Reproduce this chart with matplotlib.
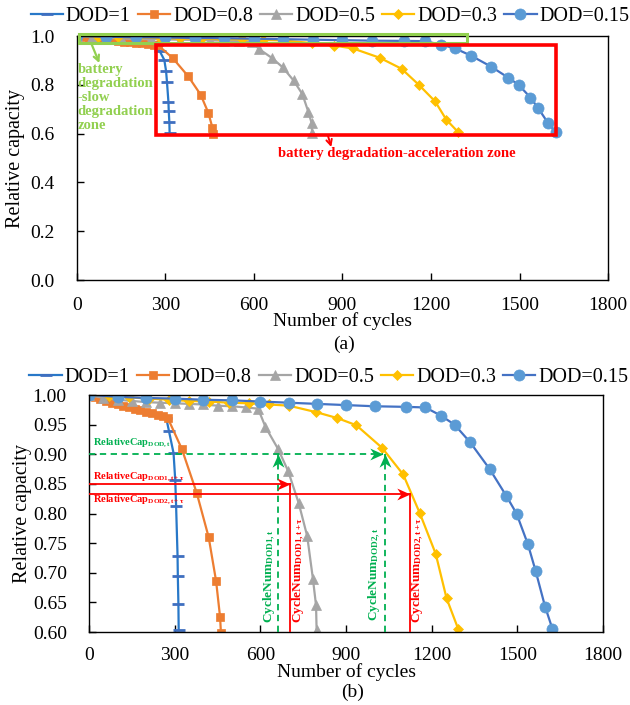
import numpy as np
import matplotlib.pyplot as plt
from matplotlib.patches import Rectangle
from matplotlib.path import Path

plt.rcParams['font.family'] = ['Liberation Serif', 'DejaVu Serif']
plt.rcParams['mathtext.fontset'] = 'custom'
plt.rcParams['mathtext.rm'] = 'Liberation Serif'
plt.rcParams['mathtext.bf'] = 'Liberation Serif:bold'
plt.rcParams['mathtext.it'] = 'Liberation Serif:italic'

# capacity fade curves for each depth of discharge
labels = ['DOD=1', 'DOD=0.8', 'DOD=0.5', 'DOD=0.3', 'DOD=0.15']

cyc_dod1 = [0, 30, 60, 90, 120, 150, 180, 210, 240, 270, 280, 296, 302, 305, 310, 311, 313, 314]
cap_dod1 = [1.000, 0.994, 0.989, 0.985, 0.981, 0.978, 0.975, 0.972, 0.968, 0.962,
            0.939, 0.902, 0.856, 0.812, 0.729, 0.694, 0.648, 0.603]

cyc_dod08 = [0, 20, 40, 60, 80, 100, 120, 140, 160, 180, 200, 220, 240, 260, 275,
             325, 377, 419, 445, 459, 462]
cap_dod08 = [1.000, 0.996, 0.993, 0.990, 0.987, 0.985, 0.982, 0.980, 0.977, 0.975,
             0.972, 0.970, 0.967, 0.965, 0.962, 0.909, 0.835, 0.760, 0.686, 0.625, 0.598]

cyc_dod05 = [0, 50, 100, 150, 200, 250, 300, 350, 400, 450, 500, 550, 592,
             618, 662, 697, 734, 764, 784, 795, 797]
cap_dod05 = [1.000, 0.995, 0.992, 0.990, 0.988, 0.987, 0.986, 0.985, 0.984, 0.982,
             0.981, 0.979, 0.977, 0.946, 0.909, 0.872, 0.818, 0.762, 0.690, 0.645, 0.603]

cyc_dod03 = [0, 70, 140, 210, 280, 350, 420, 490, 560, 632, 700, 796, 870, 936,
             1026, 1100, 1158, 1214, 1252, 1293]
cap_dod03 = [1.000, 0.998, 0.996, 0.994, 0.992, 0.990, 0.989, 0.987, 0.986, 0.984,
             0.982, 0.971, 0.961, 0.949, 0.911, 0.866, 0.801, 0.732, 0.657, 0.605]

cyc_dod015 = [0, 100, 200, 300, 400, 500, 600, 700, 800, 900, 1000, 1110, 1178,
              1233, 1280, 1335, 1403, 1461, 1497, 1537, 1564, 1597, 1623]
cap_dod015 = [1.000, 0.997, 0.995, 0.994, 0.992, 0.991, 0.989, 0.987, 0.985, 0.983,
              0.981, 0.980, 0.979, 0.965, 0.950, 0.920, 0.875, 0.830, 0.800, 0.748,
              0.703, 0.643, 0.605]

series = [(cyc_dod1, cap_dod1), (cyc_dod08, cap_dod08), (cyc_dod05, cap_dod05),
          (cyc_dod03, cap_dod03), (cyc_dod015, cap_dod015)]

line_colors = ['#2878C8', '#ED7D31', '#A5A5A5', '#FFC000', '#4472C4']
mark_colors = ['#3F6FC0', '#ED7D31', '#A5A5A5', '#FFC000', '#5B9BD5']
markers = ['_', 's', '^', 'D', 'o']
msizes = [9, 5.5, 7, 5.5, 8]

GREEN_A = '#92D050'
GREEN = '#00B050'
RED = '#FF0000'

# stealth-style arrow heads, tip at the origin
head_right = Path([(0, 0), (-1, 0.45), (-0.7, 0), (-1, -0.45), (0, 0)],
                  [Path.MOVETO, Path.LINETO, Path.LINETO, Path.LINETO, Path.CLOSEPOLY])
head_up = Path([(0, 0), (0.45, -1), (0, -0.7), (-0.45, -1), (0, 0)],
               [Path.MOVETO, Path.LINETO, Path.LINETO, Path.LINETO, Path.CLOSEPOLY])


def draw_curves(ax):
    for (x, y), lab, lc, mc, mk, ms in zip(series, labels, line_colors, mark_colors, markers, msizes):
        ax.plot(x, y, color=lc, lw=1.6, marker=mk, ms=ms, mfc=mc, mec=mc,
                mew=2 if mk == '_' else 0.5, label=lab)
    ax.set_xlim(0, 1800)
    ax.set_xticks(np.arange(0, 1801, 300))
    ax.tick_params(direction='in', length=5, width=1, labelsize=14)
    ax.tick_params(axis='y', pad=16)
    for s in ax.spines.values():
        s.set_linewidth(1.0)
    ax.set_xlabel('Number of cycles', fontsize=14, labelpad=-1)
    ax.set_ylabel('Relative capacity', fontsize=14.5, va='center')


def add_legend(ax, fig, x, y):
    ax.legend(loc='center', bbox_to_anchor=(x, y), bbox_transform=fig.transFigure,
              ncol=5, frameon=False, fontsize=14.5, handlelength=1.6,
              handletextpad=0.15, columnspacing=0.35, borderpad=0, borderaxespad=0)


fig = plt.figure(figsize=(6.3, 7.05), dpi=100)

# ---- (a) full range ----
ax1 = fig.add_axes([0.1222, 0.6028, 0.8429, 0.3461])
draw_curves(ax1)
ax1.set_ylim(0, 1.0)
ax1.set_yticks(np.arange(0, 1.01, 0.2))
ax1.yaxis.set_major_formatter(plt.FormatStrFormatter('%.1f'))
ax1.tick_params(axis='x', pad=12)
ax1.yaxis.set_label_coords(-0.115, 0.5)
add_legend(ax1, fig, 0.524, 0.976)

ax1.add_patch(Rectangle((7, 0.973), 1315, 0.035, fill=False, ec=GREEN_A, lw=2.2,
                        clip_on=False, zorder=6))
ax1.add_patch(Rectangle((268, 0.594), 1356, 0.369, fill=False, ec=RED, lw=2.6,
                        clip_on=False, zorder=6))
ax1.annotate('', xy=(76, 0.889), xytext=(50, 0.965),
             arrowprops=dict(arrowstyle='->', color=GREEN_A, lw=1.6, shrinkA=0, shrinkB=0))
ax1.text(3, 0.89, 'battery\ndegradation\n-slow\ndegradation\nzone', color=GREEN_A,
         fontsize=10.5, fontweight='bold', ha='left', va='top', linespacing=1.1, zorder=7)
ax1.annotate('', xy=(862, 0.545), xytext=(850, 0.594),
             arrowprops=dict(arrowstyle='->', color=RED, lw=1.4, shrinkA=0, shrinkB=0))
ax1.text(1085, 0.52, 'battery degradation-acceleration zone', color=RED,
         fontsize=10.5, fontweight='bold', ha='center', va='center')

# ---- (b) zoomed range ----
ax2 = fig.add_axes([0.1413, 0.1035, 0.8159, 0.3362])
draw_curves(ax2)
ax2.set_ylim(0.6, 1.0)
ax2.set_yticks(np.arange(0.6, 1.001, 0.05))
ax2.yaxis.set_major_formatter(plt.FormatStrFormatter('%.2f'))
ax2.tick_params(axis='x', pad=11)
ax2.yaxis.set_label_coords(-0.13, 0.5)
add_legend(ax2, fig, 0.522, 0.465)

# green: same capacity, cycles reached at two DODs
ax2.plot([0, 1030], [0.90, 0.90], color=GREEN, lw=1.3, dashes=(3.5, 2.5), zorder=6)
ax2.plot([663, 663], [0.60, 0.90], color=GREEN, lw=1.3, dashes=(3.5, 2.5), zorder=6)
ax2.plot([1036, 1036], [0.60, 0.90], color=GREEN, lw=1.3, dashes=(3.5, 2.5), zorder=6)
ax2.plot([1030], [0.90], marker=head_right, ms=19, color=GREEN, mew=0, zorder=7)
ax2.plot([663, 1036], [0.90, 0.90], ls='none', marker=head_up, ms=19, color=GREEN,
         mew=0, zorder=7)

# red: capacity after the next interval
ax2.plot([0, 705], [0.85, 0.85], color=RED, lw=1.3, zorder=6)
ax2.plot([705, 705], [0.60, 0.85], color=RED, lw=1.3, zorder=6)
ax2.plot([0, 1125], [0.833, 0.833], color=RED, lw=1.3, zorder=6)
ax2.plot([1125, 1125], [0.60, 0.833], color=RED, lw=1.3, zorder=6)
ax2.plot([705, 1125], [0.85, 0.833], ls='none', marker=head_right, ms=19, color=RED,
         mew=0, zorder=7)

ax2.text(14, 0.919, r'$\mathbf{RelativeCap}_{\mathbf{DOD,t}}$', color=GREEN,
         fontsize=7.5, ha='left', va='center')
ax2.text(14, 0.862, r'$\mathbf{RelativeCap}_{\mathbf{DOD1,t+\tau}}$', color=RED,
         fontsize=7.5, ha='left', va='center')
ax2.text(14, 0.823, r'$\mathbf{RelativeCap}_{\mathbf{DOD2,t+\tau}}$', color=RED,
         fontsize=7.5, ha='left', va='center')

ax2.text(634, 0.615, r'$\mathbf{CycleNum}_{\mathbf{DOD1,t}}$', color=GREEN,
         fontsize=9.5, rotation=90, ha='center', va='bottom')
ax2.text(734, 0.615, r'$\mathbf{CycleNum}_{\mathbf{DOD1,t+\tau}}$', color=RED,
         fontsize=9.5, rotation=90, ha='center', va='bottom')
ax2.text(1000, 0.618, r'$\mathbf{CycleNum}_{\mathbf{DOD2,t}}$', color=GREEN,
         fontsize=9.5, rotation=90, ha='center', va='bottom')
ax2.text(1152, 0.615, r'$\mathbf{CycleNum}_{\mathbf{DOD2,t+\tau}}$', color=RED,
         fontsize=9.5, rotation=90, ha='center', va='bottom')

fig.text(0.546, 0.511, '(a)', fontsize=14, ha='center', va='center')
fig.text(0.559, 0.018, '(b)', fontsize=14, ha='center', va='center')

fig.savefig('out.png', dpi=100)
